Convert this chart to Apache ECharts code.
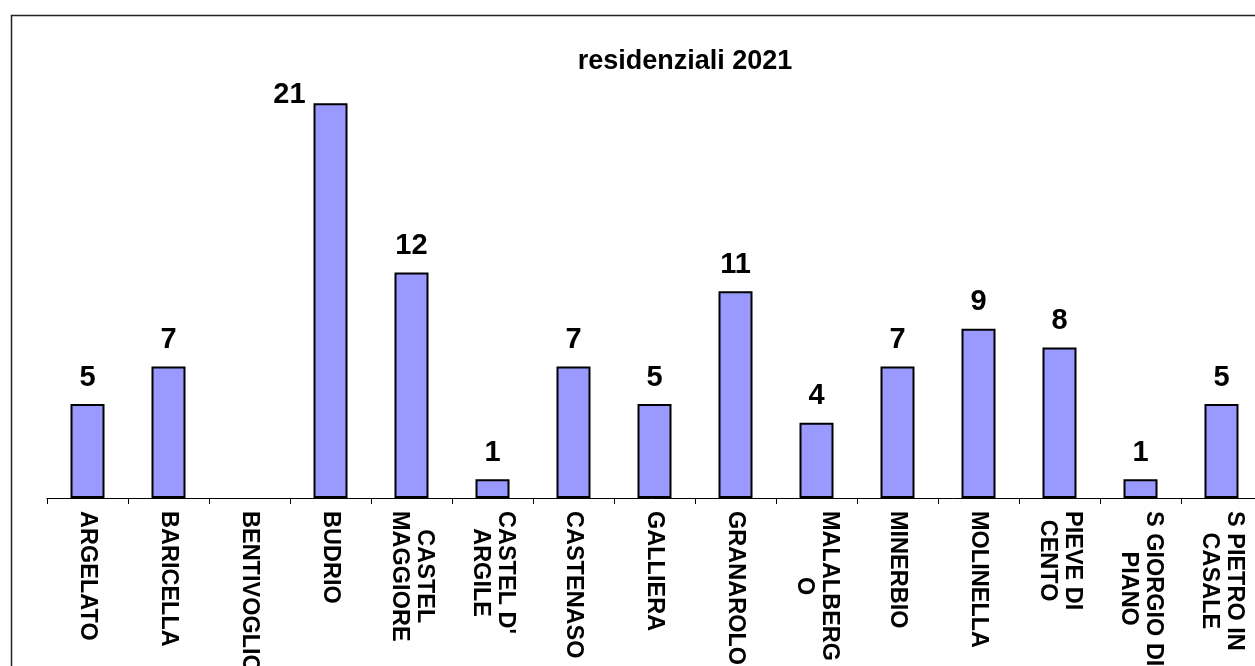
<!DOCTYPE html>
<html>
<head>
<meta charset="utf-8">
<script src="https://cdn.jsdelivr.net/npm/echarts@6/dist/echarts.min.js"></script>
<style>
html,body{margin:0;padding:0;background:#fff;}
#chart{width:1255px;height:666px;}
</style>
</head>
<body>
<div id="chart"></div>
<script>
const titleText = 'residenziali 2021';
const categories = [
  'ARGELATO', 'BARICELLA', 'BENTIVOGLIO', 'BUDRIO', 'CASTEL\nMAGGIORE',
  "CASTEL D'\nARGILE", 'CASTENASO', 'GALLIERA', 'GRANAROLO', 'MALALBERG\nO',
  'MINERBIO', 'MOLINELLA', 'PIEVE DI\nCENTO', 'S GIORGIO DI\nPIANO', 'S PIETRO IN\nCASALE'
];
const values = [5, 7, null, 21, 12, 1, 7, 5, 11, 4, 7, 9, 8, 1, 5];

const FONT = '"Liberation Sans", Arial, sans-serif';

const seriesData = values.map(function (v, i) {
  if (v === 21) {
    return { value: v, label: { offset: [-41, 18] } };
  }
  return v;
});

const chart = echarts.init(document.getElementById('chart'), null, { renderer: 'canvas' });
chart.setOption({
  animation: false,
  backgroundColor: '#ffffff',
  title: {
    text: titleText,
    left: 680,
    top: 43,
    textAlign: 'center',
    textStyle: { fontFamily: FONT, fontWeight: 'bold', fontSize: 27, color: '#000' }
  },
  graphic: [{
    type: 'rect',
    shape: { x: 11.5, y: 15.5, width: 1400, height: 1000 },
    style: { fill: 'none', stroke: '#222', lineWidth: 1.5 },
    z: -1
  }],
  grid: { left: 47, top: 28, width: 1215, height: 470, outerBoundsMode: 'none', containLabel: false },
  xAxis: {
    type: 'category',
    data: categories,
    axisLine: { show: true, lineStyle: { color: '#000', width: 1 } },
    axisTick: { show: true, length: 6, lineStyle: { color: '#000', width: 1 } },
    axisLabel: {
      rotate: -90,
      interval: 0,
      margin: 13,
      color: '#000',
      formatter: function (val) {
        return val.split('\n').map(function (s) { return '{c|' + s + '}'; }).join('\n');
      },
      rich: {
        c: { align: 'center', fontFamily: FONT, fontWeight: 'bold', fontSize: 23.5, lineHeight: 25, color: '#000' }
      }
    }
  },
  yAxis: {
    type: 'value',
    min: 0,
    max: 25,
    show: false,
    splitLine: { show: false }
  },
  series: [{
    type: 'bar',
    data: seriesData,
    barWidth: 34,
    itemStyle: { color: '#9999FF', borderColor: '#000', borderWidth: 2 },
    label: {
      show: true,
      position: 'top',
      distance: 12,
      color: '#000',
      fontFamily: FONT,
      fontWeight: 'bold',
      fontSize: 29
    }
  }]
});
</script>
</body>
</html>
